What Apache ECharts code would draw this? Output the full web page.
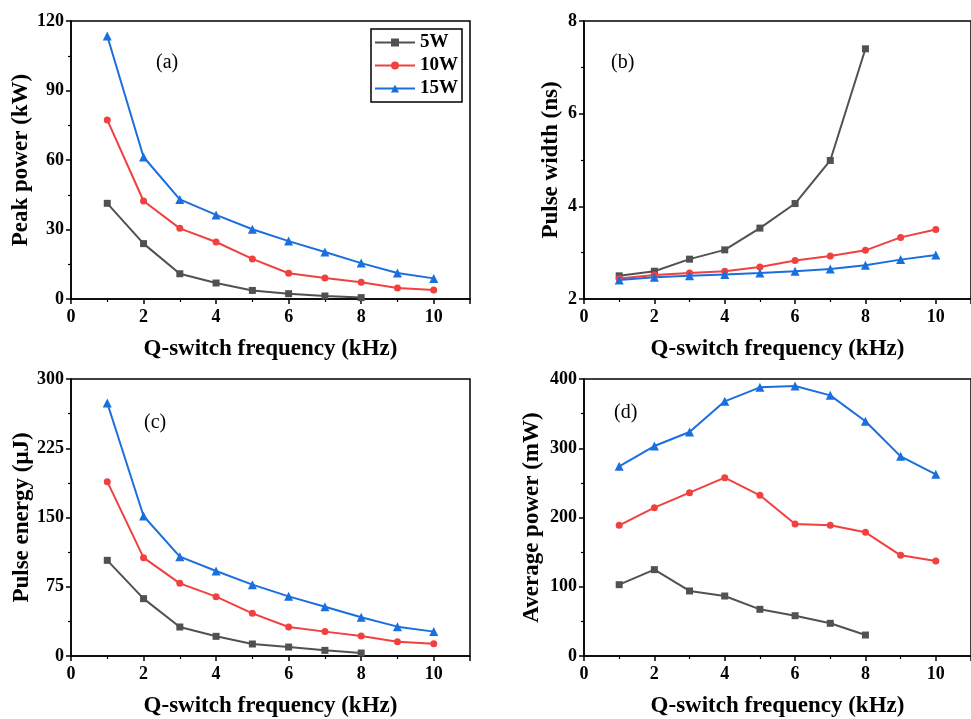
<!DOCTYPE html>
<html>
<head>
<meta charset="utf-8">
<script src="https://cdn.jsdelivr.net/npm/echarts@6/dist/echarts.min.js"></script>
<style>html,body{margin:0;padding:0;background:#fff}#c{width:971px;height:719px}</style>
</head>
<body>
<div id="c"></div>
<script>
// ---- data ----
const freq = [1, 2, 3, 4, 5, 6, 7, 8, 9, 10];
const seriesNames = ['5W', '10W', '15W'];

const peak5W  = [41.3, 23.9, 10.9, 6.9, 3.7, 2.3, 1.3, 0.6];
const peak10W = [77.3, 42.3, 30.5, 24.6, 17.3, 11.1, 9.1, 7.2, 4.7, 3.9];
const peak15W = [113.5, 61.3, 43.0, 36.3, 30.1, 25.0, 20.3, 15.5, 11.2, 8.9];

const width5W  = [2.50, 2.60, 2.86, 3.06, 3.53, 4.06, 4.99, 7.40];
const width10W = [2.44, 2.52, 2.56, 2.60, 2.69, 2.83, 2.93, 3.05, 3.33, 3.50];
const width15W = [2.41, 2.47, 2.50, 2.53, 2.56, 2.60, 2.65, 2.73, 2.85, 2.95];

const energy5W  = [103.6, 62.1, 31.4, 21.3, 13.0, 9.7, 6.1, 3.2];
const energy10W = [188.8, 106.5, 78.7, 64.3, 46.2, 31.4, 26.4, 21.7, 15.5, 13.4];
const energy15W = [274, 151.6, 107.6, 92, 77.3, 64.6, 53.4, 41.9, 31.8, 26.4];

const avg5W  = [103, 124.7, 93.9, 86.6, 67.4, 58.2, 47.2, 30.3];
const avg10W = [188.7, 214.2, 235.9, 257.5, 232, 190.6, 188.7, 178.6, 145.4, 137.2];
const avg15W = [273.9, 303.2, 323.5, 367.7, 388, 389.9, 376.4, 338.9, 288.3, 262.3];

const xTitle = 'Q-switch frequency (kHz)';
const yTitles = ['Peak power (kW)', 'Pulse width (ns)', 'Pulse energy (μJ)', 'Average power (mW)'];
const panelLabels = ['(a)', '(b)', '(c)', '(d)'];
const yRanges = [[0, 120, 30], [2, 8, 2], [0, 300, 75], [0, 400, 100]];
const xRange = [0, 11, 2];

// ---- styling ----
const FONT = "'Liberation Serif', 'Times New Roman', serif";
const colors = ['#515151', '#F14040', '#1A6FDF'];
const symbols = ['rect', 'circle', 'triangle'];
const symbolSizes = [7, 7, 9];

const grids = [
  {left: 71, top: 21, width: 399, height: 278},
  {left: 584, top: 21, width: 399, height: 278},
  {left: 71, top: 379, width: 399, height: 277},
  {left: 584, top: 379, width: 399, height: 277}
];
const nameGaps = [38, 21, 37, 40];
const labelPos = [[156, 53], [611, 53], [144, 413], [614, 403]];

const panelData = [
  [peak5W, peak10W, peak15W],
  [width5W, width10W, width15W],
  [energy5W, energy10W, energy15W],
  [avg5W, avg10W, avg15W]
];

const axisLine = {show: true, lineStyle: {color: '#000', width: 1.5}};
const tickStyle = {show: true, inside: false, length: 5, lineStyle: {color: '#000', width: 1.5}};
const minorTick = {show: true, splitNumber: 2, length: 3, lineStyle: {color: '#000', width: 1.2}};
const labelStyle = {color: '#000', fontFamily: FONT, fontWeight: 'bold', fontSize: 18};

const option = {
  animation: false,
  backgroundColor: '#fff',
  grid: grids.map(g => Object.assign({show: true, borderColor: '#000', borderWidth: 1.5, backgroundColor: 'transparent'}, g)),
  xAxis: grids.map((g, i) => ({
    type: 'value', gridIndex: i, min: xRange[0], max: xRange[1], interval: xRange[2],
    axisLine, axisTick: tickStyle, minorTick, splitLine: {show: false},
    axisLabel: Object.assign({margin: 9, showMaxLabel: false}, labelStyle),
    name: xTitle, nameLocation: 'middle', nameGap: 39,
    nameTextStyle: {color: '#000', fontFamily: FONT, fontWeight: 'bold', fontSize: 23}
  })),
  yAxis: grids.map((g, i) => ({
    type: 'value', gridIndex: i, min: yRanges[i][0], max: yRanges[i][1], interval: yRanges[i][2],
    axisLine, axisTick: tickStyle, minorTick, splitLine: {show: false},
    axisLabel: Object.assign({margin: 7}, labelStyle),
    name: yTitles[i], nameLocation: 'middle', nameGap: nameGaps[i],
    nameTextStyle: {color: '#000', fontFamily: FONT, fontWeight: 'bold', fontSize: 23}
  })),
  legend: {
    data: seriesNames,
    orient: 'vertical', left: 371, top: 29,
    padding: [4, 4, 4, 3], itemGap: 4, itemWidth: 40, itemHeight: 10,
    borderColor: '#000', borderWidth: 1.5,
    textStyle: {color: '#000', fontFamily: FONT, fontWeight: 'bold', fontSize: 19}
  },
  graphic: panelLabels.map((t, i) => ({
    type: 'text', left: labelPos[i][0], top: labelPos[i][1],
    style: {text: t, fill: '#000', font: "20px " + FONT}
  })),
  series: []
};

panelData.forEach((set, p) => {
  set.forEach((vals, s) => {
    option.series.push({
      type: 'line', name: seriesNames[s], xAxisIndex: p, yAxisIndex: p,
      data: vals.map((v, k) => [freq[k], v]),
      symbol: symbols[s], symbolSize: symbolSizes[s], showSymbol: true,
      lineStyle: {color: colors[s], width: 2},
      itemStyle: {color: colors[s]},
      color: colors[s]
    });
  });
});

const chart = echarts.init(document.getElementById('c'), null, {renderer: 'canvas'});
chart.setOption(option);
</script>
</body>
</html>
